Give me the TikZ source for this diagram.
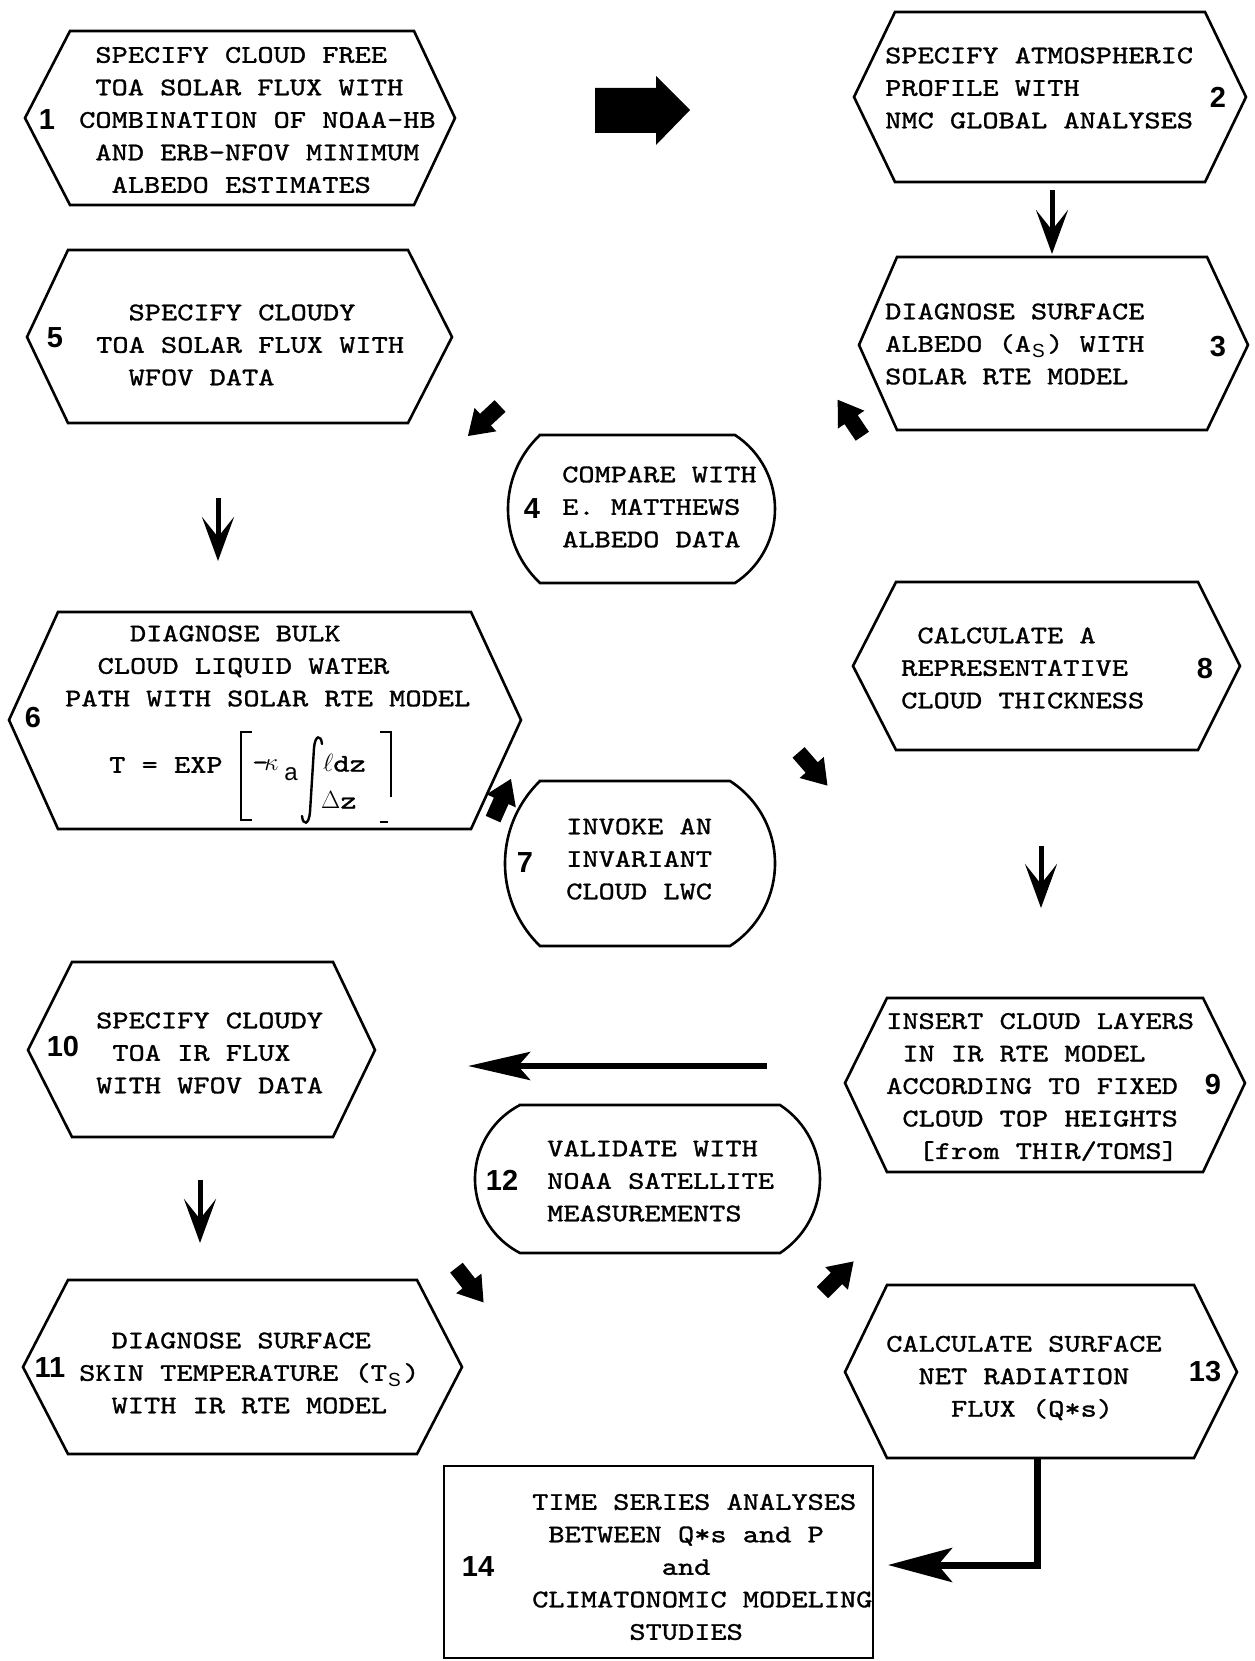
\documentclass[tikz,border=0pt]{standalone}
\usepackage{fontspec}
\usepackage{graphicx}
\usetikzlibrary{arrows.meta}
\newfontfamily\tw{lmmono10-regular.otf}[FakeStretch=1.215,FakeBold=1.2]
\newfontfamily\numfont{Liberation Sans}
\newcommand\tsp{\phantom{X}}
\newcommand\subsc[1]{\makebox[0pt][l]{\hspace{1pt}\raisebox{-6pt}{\fontsize{19}{19}\selectfont\numfont #1}}\phantom{X}}
% hexagon: name, L, xl, xr, R, T, B, M
\newcommand\hexbox[8]{%
  \draw[outline] (#2,#8) coordinate (#1w) -- (#3,#6) -- (#4,#6) -- (#5,#8) coordinate (#1e) -- (#4,#7) -- (#3,#7) -- cycle;}
% stadium: name, xTL, xTR, T, B, bulge left, bulge right
\newcommand\stadium[7]{%
  \pgfmathsetmacro\hh{(#5-#4)/2}%
  \pgfmathsetmacro\rl{(\hh*\hh+#6*#6)/(2*#6)}%
  \pgfmathsetmacro\rr{(\hh*\hh+#7*#7)/(2*#7)}%
  \pgfmathsetmacro\al{asin(\hh/\rl)}%
  \pgfmathsetmacro\ar{asin(\hh/\rr)}%
  \draw[outline] (#2,#4) coordinate (#1nw) -- (#3,#4) arc[start angle=\ar, end angle=-\ar, radius={\rr*1pt}] -- (#2,#5) arc[start angle=180+\al, end angle=180-\al, radius={\rl*1pt}] -- cycle;}
% fat arrow: name, x, y, angle
\newcommand\fatarrow[4]{%
  \coordinate (#1) at (#2,#3);
  \fill[shift={(#1)}, rotate=#4] (-22pt,-8pt) -- (-2pt,-8pt) -- (-2pt,-16pt) -- (22pt,0pt) -- (-2pt,16pt) -- (-2pt,8pt) -- (-22pt,8pt) -- cycle;}
\tikzset{
  outline/.style={line width=2.6pt, line join=miter},
  txt/.style={font={\tw\fontsize{25.4}{32.5}\selectfont}, align=left, anchor=west, inner sep=0pt},
  num/.style={font={\numfont\bfseries\fontsize{29}{29}\selectfont}, inner sep=0pt},
  subtxt/.style={font={\numfont\fontsize{24}{24}\selectfont}, inner sep=0pt},
  thinarrow/.style={line width=5pt, -{Stealth[length=44pt,width=32pt,inset=20pt]}},
  longarrow/.style={line width=6.5pt, -{Stealth[length=62pt,width=28pt,inset=12pt]}},
  elbowarrow/.style={line width=7pt, line join=miter, -{Stealth[length=64pt,width=34pt,inset=14pt]}},
}
\begin{document}
\begin{tikzpicture}[x=1pt, y=-1pt]
\useasboundingbox (0,0) rectangle (1254,1661);

% ---- shapes ----
\hexbox{b1}{25}{70}{414}{455}{31}{205}{118}
\hexbox{b2}{854}{895}{1205}{1246}{12}{182}{97}
\hexbox{b3}{859}{897}{1207}{1248}{257}{430}{345}
\hexbox{b5}{27}{68}{408}{452}{250}{423}{337}
\hexbox{b6}{9}{58}{471}{521}{612}{829}{720}
\hexbox{b8}{853}{896}{1198}{1240}{582}{750}{666}
\hexbox{b9}{845}{887}{1203}{1245}{998}{1172}{1083}
\hexbox{b10}{28}{72}{333}{375}{962}{1137}{1050}
\hexbox{b11}{23}{68}{417}{462}{1280}{1454}{1367}
\hexbox{b13}{845}{887}{1194}{1237}{1285}{1458}{1372}
\stadium{b4}{540}{735}{435}{583}{32}{40}
\stadium{b7}{540}{730}{781}{946}{35}{45}
\stadium{b12}{520}{780}{1105}{1253}{45}{40}
\path (444,1466) coordinate (b14nw) (873,1658) coordinate (b14se);
\draw[outline] (b14nw) rectangle (b14se);

% ---- texts ----
\node[txt] (t1) at (79,120) {\tsp SPECIFY CLOUD FREE\\\tsp TOA SOLAR FLUX WITH\\COMBINATION OF NOAA-HB\\\tsp AND ERB-NFOV MINIMUM\\\tsp\tsp ALBEDO ESTIMATES};
\node[txt] (t2) at (885,88) {SPECIFY ATMOSPHERIC\\PROFILE WITH\\NMC GLOBAL ANALYSES};
\node[txt] (t3) at (885,344) {DIAGNOSE SURFACE\\ALBEDO (A\subsc{S}) WITH\\SOLAR RTE MODEL};
\node[txt] (t4) at (562,507) {COMPARE WITH\\E. MATTHEWS\\ALBEDO DATA};
\node[txt] (t5) at (96,345) {\tsp\tsp SPECIFY CLOUDY\\TOA SOLAR FLUX WITH\\\tsp\tsp WFOV DATA};
\node[txt] (t6) at (65,666) {\tsp\tsp\tsp\tsp DIAGNOSE BULK\\\tsp\tsp CLOUD LIQUID WATER\\PATH WITH SOLAR RTE MODEL};
\node[txt] (t7) at (566,859) {INVOKE AN\\INVARIANT\\CLOUD LWC};
\node[txt] (t8) at (901,668) {\tsp CALCULATE A\\REPRESENTATIVE\\CLOUD THICKNESS};
\node[txt] (t9) at (886,1087) {INSERT CLOUD LAYERS\\\tsp IN IR RTE MODEL\\ACCORDING TO FIXED\\\tsp CLOUD TOP HEIGHTS\\\tsp\tsp [from THIR/TOMS]};
\node[txt] (t10) at (96,1053) {SPECIFY CLOUDY\\\tsp TOA IR FLUX\\WITH WFOV DATA};
\node[txt] (t11) at (79,1373) {\tsp\tsp DIAGNOSE SURFACE\\SKIN TEMPERATURE (T\subsc{S})\\\tsp\tsp WITH IR RTE MODEL};
\node[txt] (t12) at (547,1181) {VALIDATE WITH\\NOAA SATELLITE\\MEASUREMENTS};
\node[txt] (t13) at (886,1378) {CALCULATE SURFACE\\\tsp\tsp NET RADIATION\\\tsp\tsp\tsp\tsp FLUX (Q*s)};
\node[txt] (t14) at (532,1567) {TIME SERIES ANALYSES\\\tsp BETWEEN Q*s and P\\\tsp\tsp\tsp\tsp\tsp\tsp\tsp\tsp and\\CLIMATONOMIC MODELING\\\tsp\tsp\tsp\tsp\tsp\tsp STUDIES};

% formula in box 6
\node[txt] (f1) at (109,765) {T = EXP};
\node[txt] (f2) at (252,765) {-\hspace{-4pt}$\kappa$};
\node[subtxt] (f3) at (291,774) {a};
\node[txt] (f5) at (323,763) {$\ell$dz};
\node[txt] (f6) at (321,800) {$\Delta$z};
% integral sign drawn as a curve
\coordinate (intb) at (302,816);
\coordinate (intt) at (322,744);
\draw[line width=2.4pt, line cap=round] (intb) .. controls (303,826) and (309,825) .. (310,812) -- (314,748) .. controls (315,735) and (321,734) .. (intt);
\draw[line width=2.6pt] (252,732) -- (241,732) -- (241,820) -- (252,820);
\draw[line width=2.6pt] (380,732) -- (391,732) -- (391,797);
\draw[line width=2.6pt] (380,822) -- (388,822);

% ---- numbers ----
\node[num] (n1) at (47,120) {1};
\node[num] (n2) at (1218,97) {2};
\node[num] (n3) at (1218,347) {3};
\node[num] (n4) at (532,509) {4};
\node[num] (n5) at (55,338) {5};
\node[num] (n6) at (33,718) {6};
\node[num] (n7) at (525,863) {7};
\node[num] (n8) at (1205,669) {8};
\node[num] (n9) at (1213,1085) {9};
\node[num] (n10) at (63,1047) {10};
\node[num] (n11) at (50,1368) {11};
\node[num] (n12) at (502,1180) {12};
\node[num] (n13) at (1205,1372) {13};
\node[num] (n14) at (478,1567) {14};

% ---- big arrow 1 -> 2 ----
\coordinate (big) at (642,110);
\fill (595,88) -- (656,88) -- (656,76) -- (690,110) -- (656,145) -- (656,133) -- (595,133) -- cycle;

% ---- straight arrows ----
\coordinate (a23s) at (1052,190); \coordinate (a23e) at (1052,254);
\draw[thinarrow] (a23s) -- (a23e);
\coordinate (a56s) at (218,498); \coordinate (a56e) at (218,561);
\draw[thinarrow] (a56s) -- (a56e);
\coordinate (a89s) at (1041,846); \coordinate (a89e) at (1041,908);
\draw[thinarrow] (a89s) -- (a89e);
\coordinate (a1011s) at (200,1180); \coordinate (a1011e) at (200,1243);
\draw[thinarrow] (a1011s) -- (a1011e);
\coordinate (a910s) at (767,1066); \coordinate (a910e) at (468,1066);
\draw[longarrow] (a910s) -- (a910e);
\coordinate (b13s) at (1037,1458); \coordinate (a1314e) at (888,1565);
\draw[elbowarrow] (b13s) |- (a1314e);

% ---- small fat arrows ----
\fatarrow{fa1}{850}{418}{124}
\fatarrow{fa2}{484}{421}{223}
\fatarrow{fa3}{502}{799}{66}
\fatarrow{fa4}{813}{769}{-49}
\fatarrow{fa5}{470}{1285}{-52}
\fatarrow{fa6}{838}{1277}{45}
\end{tikzpicture}
\end{document}
